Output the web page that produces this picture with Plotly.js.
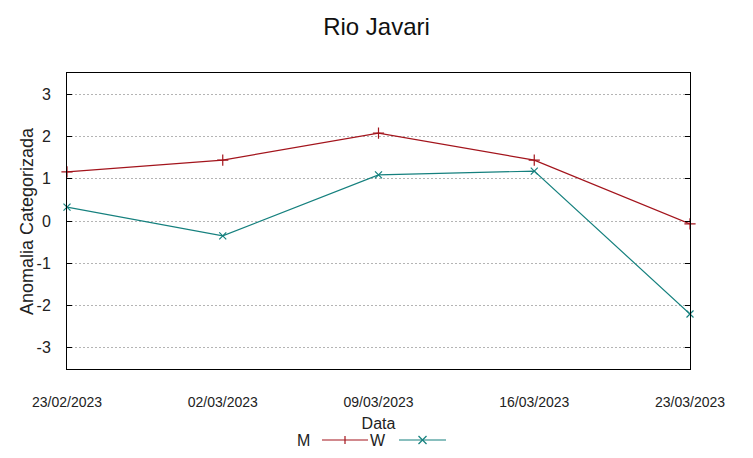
<!DOCTYPE html>
<html><head><meta charset="utf-8">
<script src="https://cdn.plot.ly/plotly-3.0.1.min.js"></script>
<style>body{margin:0;padding:0;background:#fff}#chart{width:753px;height:458px}</style>
</head><body><div id="chart"></div>
<script>
const dates = ['23/02/2023','02/03/2023','09/03/2023','16/03/2023','23/03/2023'];
const seriesM = [1.16, 1.44, 2.08, 1.44, -0.07];
const seriesW = [0.33, -0.35, 1.09, 1.18, -2.2];
const yTicks = [-3,-2,-1,0,1,2,3];
const yTickText = ['-3','-2','-1','0','1','2','3'];
const names = ['M','W'];
const colors = ['#a3141c','#15807e'];

const font = 'Liberation Sans, Arial, sans-serif';
const L=67, R=690, T=73, B=369;
const px = x => (x-L)/(R-L);
const py = y => (B-y)/(B-T);

const traces = [
  {x: dates, y: seriesM, name: names[0], type:'scatter', mode:'lines+markers',
   line:{color:colors[0], width:1.2}, marker:{symbol:'cross-thin-open', size:8, line:{color:colors[0], width:1.2}}, cliponaxis:false},
  {x: dates, y: seriesW, name: names[1], type:'scatter', mode:'lines+markers',
   line:{color:colors[1], width:1.2}, marker:{symbol:'x-thin-open', size:7, line:{color:colors[1], width:1.2}}, cliponaxis:false}
];

// custom gnuplot-style legend (text left of sample)
const shapes = [];
const annotations = [];
const legY = 440;
const legItems = [{text:names[0], tx:303, x0:322, x1:368, c:colors[0], m:'+'},
                  {text:names[1], tx:378, x0:399, x1:446, c:colors[1], m:'x'}];
legItems.forEach(it => {
  annotations.push({xref:'paper', yref:'paper', x:px(it.tx), y:py(legY), text:it.text, showarrow:false,
    xanchor:'center', yanchor:'middle', font:{family:font, size:16, color:'#222'}});
  shapes.push({type:'line', xref:'paper', yref:'paper', x0:px(it.x0), x1:px(it.x1), y0:py(legY), y1:py(legY), line:{color:it.c, width:1.2}});
  const cx = (it.x0+it.x1)/2, s=4;
  if (it.m==='+') {
    shapes.push({type:'line', xref:'paper', yref:'paper', x0:px(cx), x1:px(cx), y0:py(legY-s), y1:py(legY+s), line:{color:it.c, width:1.2}});
  } else {
    shapes.push({type:'line', xref:'paper', yref:'paper', x0:px(cx-s), x1:px(cx+s), y0:py(legY-s), y1:py(legY+s), line:{color:it.c, width:1.2}});
    shapes.push({type:'line', xref:'paper', yref:'paper', x0:px(cx-s), x1:px(cx+s), y0:py(legY+s), y1:py(legY-s), line:{color:it.c, width:1.2}});
  }
});
// y-axis title placed like gnuplot
annotations.push({xref:'paper', yref:'paper', x:px(27), y:py(221), text:'Anomalia Categorizada', textangle:-90,
  showarrow:false, xanchor:'center', yanchor:'middle', font:{family:font, size:18, color:'#222'}});

const layout = {
  width:753, height:458,
  margin:{l:L, r:753-R, t:T, b:458-B, pad:0},
  paper_bgcolor:'#fff', plot_bgcolor:'#fff',
  showlegend:false,
  font:{family:font, color:'#222'},
  title:{text:'Rio Javari', x:0.5, xanchor:'center', y:1-27/458, yanchor:'middle', font:{family:font, size:24, color:'#111'}},
  xaxis:{type:'category', range:[0,4], showgrid:false, zeroline:false,
    showline:true, mirror:true, linecolor:'#000', linewidth:1, ticks:'',
    tickfont:{family:font, size:14, color:'#222'}, ticklabelstandoff:20,
    title:{text:'Data', font:{family:font, size:16, color:'#222'}, standoff:9}},
  yaxis:{range:[-3.5,3.5], tickvals:yTicks, ticktext:yTickText, showgrid:true, gridcolor:'#b4b4b4', griddash:'2px,2px', gridwidth:1,
    zeroline:false, showline:true, mirror:'ticks', linecolor:'#000', linewidth:1,
    ticks:'inside', ticklen:5, tickcolor:'#000',
    tickfont:{family:font, size:16, color:'#222'}, ticklabelstandoff:12},
  shapes: shapes, annotations: annotations
};
Plotly.newPlot('chart', traces, layout, {displayModeBar:false, staticPlot:true});
</script></body></html>
